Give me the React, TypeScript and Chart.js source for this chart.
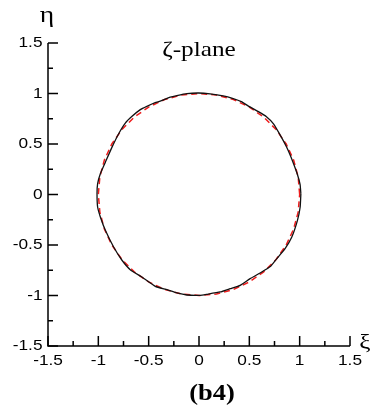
import { useEffect, useRef } from "react";
import { Chart, registerables } from "chart.js";

Chart.register(...registerables);

// Axis range and tick values (same for ξ and η)
const axisMin = -1.5;
const axisMax = 1.5;
const majorTicks = [-1.5, -1, -0.5, 0, 0.5, 1, 1.5];
const minorTicks = [-1.25, -0.75, -0.25, 0.25, 0.75, 1.25];
const tickLabels = ["-1.5", "-1", "-0.5", "0", "0.5", "1", "1.5"];

// Computed body contour in the ζ-plane (closed, counter-clockwise)
const boundaryXi = [
  1.012, 1.004, 0.977, 0.93, 0.87, 0.8, 0.74, 0.67, 0.59, 0.5, 0.42, 0.34, 0.24, 0.11,
  -0.005, -0.12, -0.22, -0.286, -0.385, -0.435, -0.518, -0.583, -0.665, -0.732, -0.798,
  -0.864, -0.93, -0.98, -1.007, -1.013, -1.007, -0.98, -0.93, -0.848, -0.765, -0.683,
  -0.567, -0.434, -0.318, -0.219, -0.12, 0.012, 0.078, 0.21, 0.31, 0.409, 0.508, 0.607,
  0.712, 0.773, 0.855, 0.922, 0.978, 1.005, 1.012,
];
const boundaryEta = [
  0.009, 0.1, 0.2, 0.33, 0.47, 0.6, 0.7, 0.77, 0.82, 0.87, 0.92, 0.95, 0.977, 0.997,
  1.005, 0.999, 0.98, 0.964, 0.925, 0.909, 0.873, 0.84, 0.774, 0.707, 0.602,
  0.469, 0.32, 0.206, 0.108, 0.009, -0.124, -0.222, -0.354, -0.52, -0.651, -0.744,
  -0.817, -0.909, -0.942, -0.975, -0.995, -0.998, -0.988, -0.965, -0.932, -0.899, -0.833, -0.777,
  -0.711, -0.635, -0.536, -0.421, -0.256, -0.124, 0.009,
];

// Reference unit circle
const circleXi = [
  1, 0.985, 0.94, 0.866, 0.766, 0.643, 0.5, 0.342, 0.174, 0, -0.174, -0.342, -0.5,
  -0.643, -0.766, -0.866, -0.94, -0.985, -1, -0.985, -0.94, -0.866, -0.766, -0.643,
  -0.5, -0.342, -0.174, 0, 0.174, 0.342, 0.5, 0.643, 0.766, 0.866, 0.94, 0.985, 1,
];
const circleEta = [
  0, 0.174, 0.342, 0.5, 0.643, 0.766, 0.866, 0.94, 0.985, 1, 0.985, 0.94, 0.866,
  0.766, 0.643, 0.5, 0.342, 0.174, 0, -0.174, -0.342, -0.5, -0.643, -0.766,
  -0.866, -0.94, -0.985, -1, -0.985, -0.94, -0.866, -0.766, -0.643, -0.5, -0.342, -0.174, 0,
];

const SANS = '"Liberation Sans", Arial, sans-serif';
const SERIF = '"Liberation Serif", "Times New Roman", serif';
const STRETCH = 1.15;

function drawText(
  ctx: CanvasRenderingContext2D,
  text: string,
  x: number,
  y: number,
  font: string,
  align: CanvasTextAlign,
  baseline: CanvasTextBaseline
) {
  ctx.save();
  ctx.translate(x, y);
  ctx.scale(STRETCH, 1);
  ctx.font = font;
  ctx.fillStyle = "#000";
  ctx.textAlign = align;
  ctx.textBaseline = baseline;
  ctx.fillText(text, 0, 0);
  ctx.restore();
}

const framePlugin = {
  id: "framePlugin",
  afterDraw(chart: any) {
    const { ctx, scales } = chart;
    const sx = scales.x;
    const sy = scales.y;
    const left = sx.getPixelForValue(axisMin);
    const right = sx.getPixelForValue(axisMax);
    const bottom = sy.getPixelForValue(axisMin);
    const top = sy.getPixelForValue(axisMax);

    ctx.save();
    ctx.strokeStyle = "#000";
    ctx.lineWidth = 1.5;
    ctx.lineCap = "butt";
    ctx.beginPath();
    ctx.moveTo(left, top);
    ctx.lineTo(left, bottom);
    ctx.lineTo(right, bottom);
    ctx.stroke();

    // inward tick marks
    ctx.beginPath();
    majorTicks.forEach((v) => {
      const px = sx.getPixelForValue(v);
      ctx.moveTo(px, bottom);
      ctx.lineTo(px, bottom - 10);
      const py = sy.getPixelForValue(v);
      ctx.moveTo(left, py);
      ctx.lineTo(left + 10, py);
    });
    minorTicks.forEach((v) => {
      const px = sx.getPixelForValue(v);
      ctx.moveTo(px, bottom);
      ctx.lineTo(px, bottom - 5);
      const py = sy.getPixelForValue(v);
      ctx.moveTo(left, py);
      ctx.lineTo(left + 5, py);
    });
    ctx.stroke();
    ctx.restore();

    const tickFont = `15px ${SANS}`;
    majorTicks.forEach((v, i) => {
      drawText(ctx, tickLabels[i], sx.getPixelForValue(v), bottom + 15, tickFont, "center", "middle");
      drawText(ctx, tickLabels[i], left - 5.5, sy.getPixelForValue(v), tickFont, "right", "middle");
    });

    drawText(ctx, "ξ", right + 15, bottom + 3, `22px ${SERIF}`, "center", "alphabetic");
    drawText(ctx, "η", left - 1, top - 21, `24px ${SERIF}`, "center", "alphabetic");
    drawText(ctx, "ζ-plane", sx.getPixelForValue(0), sy.getPixelForValue(1.37), `22px ${SERIF}`, "center", "alphabetic");
    drawText(ctx, "(b4)", sx.getPixelForValue(0.13), bottom + 48, `bold 23px ${SERIF}`, "center", "middle");
  },
};

export default function App() {
  const canvasRef = useRef<HTMLCanvasElement | null>(null);

  useEffect(() => {
    document.body.style.margin = "0";
    const canvas = canvasRef.current;
    if (!canvas) return;

    const boundary = boundaryXi.map((x, i) => ({ x, y: boundaryEta[i] }));
    const circle = circleXi.map((x, i) => ({ x, y: circleEta[i] }));

    const chart = new Chart(canvas, {
      type: "scatter",
      data: {
        datasets: [
          {
            label: "contour",
            data: boundary,
            showLine: true,
            borderColor: "#111",
            borderWidth: 1.3,
            pointRadius: 0,
            tension: 0.15,
            fill: false,
          },
          {
            label: "unit circle",
            data: circle,
            showLine: true,
            borderColor: "#ee1c1c",
            borderWidth: 1.5,
            borderDash: [6, 4],
            pointRadius: 0,
            tension: 0,
            fill: false,
          },
        ],
      },
      options: {
        animation: false,
        responsive: false,
        devicePixelRatio: 1,
        layout: { padding: { left: 48, right: 21, top: 43, bottom: 68 } },
        plugins: { legend: { display: false }, tooltip: { enabled: false } },
        scales: {
          x: { type: "linear", min: axisMin, max: axisMax, display: false },
          y: { type: "linear", min: axisMin, max: axisMax, display: false },
        },
      },
      plugins: [framePlugin],
    });

    return () => chart.destroy();
  }, []);

  return (
    <div style={{ width: 371, height: 414, background: "#fff" }}>
      <canvas ref={canvasRef} width={371} height={414} />
    </div>
  );
}
